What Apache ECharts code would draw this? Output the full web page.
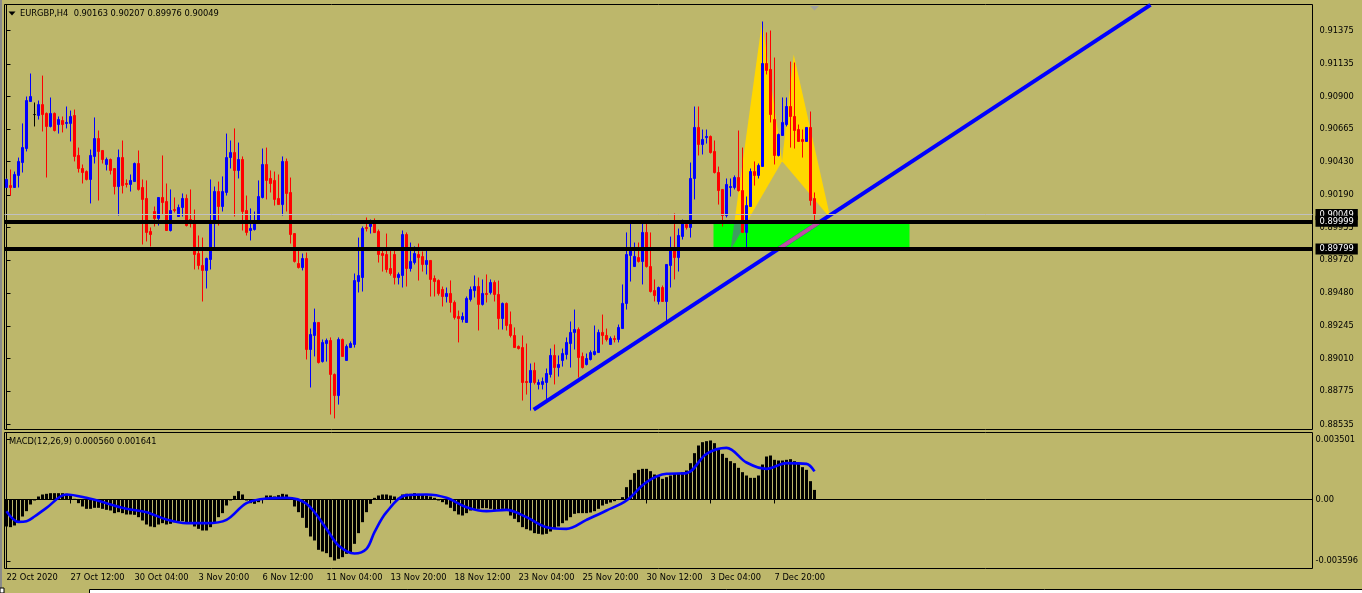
<!DOCTYPE html>
<html><head><meta charset="utf-8">
<script src="https://cdn.jsdelivr.net/npm/echarts@6/dist/echarts.min.js"></script>
<style>html,body{margin:0;padding:0;background:#BDB76B;overflow:hidden}#c{width:1362px;height:593px}</style>
</head><body><div id="c"></div>
<script>
const symbolName = 'EURGBP,H4';
const xTickLabels = ['22 Oct 2020','27 Oct 12:00','30 Oct 04:00','3 Nov 20:00','6 Nov 12:00','11 Nov 04:00','13 Nov 20:00','18 Nov 12:00','23 Nov 04:00','25 Nov 20:00','30 Nov 12:00','3 Dec 04:00','7 Dec 20:00'];
const priceTicks = [0.91375,0.91135,0.90900,0.90665,0.90430,0.90190,0.89955,0.89720,0.89480,0.89245,0.89010,0.88775,0.88535];
const macdTicks = [0.003501, 0, -0.003596];

const opens = [
0.90243,0.90257,0.90243,0.90330,0.90423,0.90524,0.90863,0.90769,0.90762,0.90841,
0.90777,0.90683,0.90777,0.90697,0.90726,0.90705,0.90705,0.90762,0.90474,0.90380,
0.90358,0.90301,0.90467,0.90596,0.90510,0.90409,0.90445,0.90380,0.90250,0.90459,
0.90272,0.90265,0.90286,0.90416,0.90243,0.90164,0.89926,0.90070,0.90020,0.90171,
0.90142,0.89933,0.90084,0.90034,0.90099,0.90164,0.90012,0.89991,0.89767,0.89681,
0.89645,0.89724,0.89983,0.90214,0.90106,0.90207,0.90459,0.90495,0.90366,0.90445,
0.90077,0.89933,0.89940,0.89998,0.90171,0.90409,0.90308,0.90294,0.90164,0.90120,
0.90431,0.90207,0.89911,0.89695,0.89666,0.89731,0.89075,0.89176,0.89270,0.88988,
0.89118,0.89140,0.88895,0.88743,0.89147,0.88996,0.89089,0.89111,0.89565,0.89594,
0.89955,0.89962,0.89998,0.89926,0.89767,0.89760,0.89659,0.89760,0.89594,0.89609,
0.89904,0.89659,0.89702,0.89760,0.89745,0.89688,0.89717,0.89587,0.89573,0.89508,
0.89457,0.89479,0.89414,0.89313,0.89291,0.89270,0.89436,0.89500,0.89529,0.89400,
0.89479,0.89486,0.89558,0.89472,0.89298,0.89407,0.89255,0.89176,0.89097,0.89089,
0.88844,0.88837,0.88924,0.88823,0.88823,0.88837,0.88895,0.89032,0.88945,0.88996,
0.89039,0.89118,0.89198,0.89219,0.89025,0.88967,0.89003,0.89039,0.89053,0.89198,
0.89176,0.89111,0.89154,0.89147,0.89226,0.89407,0.89753,0.89673,0.89738,0.89710,
0.89919,0.89673,0.89500,0.89421,0.89522,0.89421,0.89681,0.89803,0.89738,0.89890,
0.89976,0.89955,0.90308,0.90676,0.90553,0.90603,0.90611,0.90503,0.90351,0.90229,
0.90041,0.90243,0.90243,0.90315,0.90221,0.89919,0.90106,0.90358,0.90330,0.90395,
0.91137,0.91094,0.90733,0.90474,0.90618,0.90697,0.90827,0.90755,0.90661,0.90589,
0.90575,0.90676,0.90163];

const highs = [
0.90308,0.90373,0.90358,0.90459,0.90705,0.90899,0.91065,0.90856,0.90870,0.91050,
0.90784,0.90892,0.90784,0.90755,0.90755,0.90827,0.90798,0.90805,0.90531,0.90409,
0.90366,0.90517,0.90748,0.90654,0.90510,0.90459,0.90452,0.90380,0.90517,0.90582,
0.90301,0.90337,0.90423,0.90510,0.90301,0.90294,0.89955,0.90106,0.90171,0.90474,
0.90272,0.90229,0.90171,0.90120,0.90200,0.90193,0.90229,0.90084,0.89897,0.89882,
0.89738,0.90301,0.90250,0.90286,0.90323,0.90632,0.90582,0.90669,0.90567,0.90467,
0.90185,0.90092,0.90070,0.90294,0.90524,0.90531,0.90366,0.90358,0.90337,0.90467,
0.90452,0.90315,0.89911,0.89796,0.89767,0.89774,0.89226,0.89370,0.89270,0.89147,
0.89154,0.89162,0.88902,0.89162,0.89154,0.89111,0.89133,0.89623,0.89882,0.89962,
0.90027,0.90012,0.90020,0.89940,0.89810,0.89911,0.89810,0.89810,0.89630,0.89933,
0.89919,0.89846,0.89818,0.89839,0.89782,0.89803,0.89717,0.89609,0.89580,0.89529,
0.89522,0.89573,0.89428,0.89356,0.89342,0.89457,0.89529,0.89609,0.89594,0.89580,
0.89616,0.89580,0.89573,0.89572,0.89414,0.89414,0.89349,0.89234,0.89104,0.89176,
0.89118,0.88974,0.88981,0.88859,0.88873,0.88938,0.89082,0.89111,0.89032,0.89082,
0.89162,0.89277,0.89363,0.89234,0.89053,0.89046,0.89068,0.89248,0.89219,0.89327,
0.89226,0.89169,0.89176,0.89255,0.89544,0.89919,0.89983,0.89846,0.89846,0.89991,
0.89983,0.89919,0.89580,0.89529,0.89536,0.89688,0.89889,0.90056,0.89947,0.90012,
0.89998,0.90423,0.90827,0.90827,0.90661,0.90661,0.90618,0.90582,0.90394,0.90229,
0.90308,0.90308,0.90330,0.90654,0.90531,0.90178,0.90380,0.90431,0.90416,0.91440,
0.91361,0.91375,0.91180,0.90632,0.90892,0.90892,0.91151,0.91144,0.90697,0.90661,
0.90676,0.90791,0.90207];

const lows = [
0.90243,0.90185,0.90243,0.90243,0.90351,0.90503,0.90863,0.90683,0.90733,0.90647,
0.90315,0.90676,0.90647,0.90632,0.90640,0.90669,0.90575,0.90431,0.90351,0.90272,
0.90294,0.90128,0.90416,0.90149,0.90416,0.90366,0.90337,0.90193,0.90041,0.90200,
0.90243,0.90214,0.90286,0.90221,0.89832,0.89854,0.89818,0.89962,0.89969,0.90048,
0.89933,0.89926,0.90063,0.90034,0.90034,0.89962,0.89955,0.89652,0.89652,0.89421,
0.89515,0.89652,0.89810,0.89969,0.90070,0.90185,0.90380,0.90034,0.90308,0.89933,
0.89897,0.89861,0.89933,0.89991,0.90164,0.90157,0.90207,0.90113,0.90120,0.90041,
0.90070,0.89839,0.89702,0.89659,0.89645,0.89003,0.88801,0.89025,0.88974,0.88981,
0.88988,0.88606,0.88578,0.88678,0.89025,0.88996,0.89089,0.89089,0.89486,0.89493,
0.89926,0.89911,0.89918,0.89702,0.89637,0.89630,0.89608,0.89544,0.89544,0.89522,
0.89529,0.89637,0.89688,0.89572,0.89637,0.89616,0.89457,0.89457,0.89464,0.89385,
0.89414,0.89342,0.89291,0.89126,0.89270,0.89270,0.89421,0.89450,0.89212,0.89392,
0.89414,0.89472,0.89421,0.89219,0.89219,0.89212,0.89162,0.89089,0.89075,0.88707,
0.88750,0.88635,0.88823,0.88787,0.88787,0.88715,0.88873,0.88823,0.88880,0.88952,
0.89003,0.88945,0.89075,0.88873,0.88938,0.88960,0.88996,0.89032,0.89053,0.89111,
0.89133,0.89111,0.89126,0.89126,0.89226,0.89363,0.89565,0.89673,0.89702,0.89544,
0.89666,0.89486,0.89421,0.89400,0.89421,0.89277,0.89522,0.89580,0.89637,0.89868,
0.89940,0.89882,0.90157,0.90474,0.90481,0.90560,0.90488,0.90344,0.90120,0.89962,
0.90027,0.90178,0.90229,0.90214,0.89919,0.89810,0.90106,0.90257,0.90308,0.90395,
0.91058,0.90712,0.90409,0.90467,0.90618,0.90683,0.90531,0.90524,0.90575,0.90459,
0.90575,0.90113,0.89976];

const closes = [
0.90301,0.90243,0.90337,0.90431,0.90531,0.90870,0.90899,0.90769,0.90841,0.90769,
0.90683,0.90777,0.90654,0.90733,0.90697,0.90712,0.90755,0.90467,0.90380,0.90351,
0.90301,0.90474,0.90596,0.90503,0.90445,0.90445,0.90366,0.90250,0.90459,0.90257,
0.90265,0.90294,0.90416,0.90229,0.90157,0.89919,0.89904,0.90020,0.90171,0.90135,
0.89933,0.90077,0.90077,0.90099,0.90164,0.89969,0.89983,0.89760,0.89681,0.89645,
0.89731,0.89998,0.90214,0.90106,0.90214,0.90459,0.90495,0.90366,0.90445,0.90070,
0.89919,0.89948,0.89998,0.90178,0.90409,0.90294,0.90272,0.90157,0.90120,0.90431,
0.90200,0.89904,0.89710,0.89666,0.89731,0.89075,0.89183,0.89270,0.88981,0.89126,
0.89140,0.88895,0.88743,0.89147,0.89025,0.89097,0.89118,0.89572,0.89608,0.89947,
0.89947,0.89991,0.89918,0.89760,0.89753,0.89652,0.89623,0.89594,0.89616,0.89904,
0.89659,0.89710,0.89767,0.89738,0.89688,0.89717,0.89580,0.89565,0.89479,0.89457,
0.89479,0.89414,0.89306,0.89298,0.89313,0.89443,0.89508,0.89529,0.89400,0.89479,
0.89472,0.89558,0.89472,0.89298,0.89407,0.89248,0.89176,0.89089,0.89082,0.88837,
0.88837,0.88924,0.88837,0.88837,0.88844,0.88902,0.89032,0.88945,0.88967,0.89046,
0.89126,0.89198,0.89219,0.89017,0.88945,0.89010,0.89053,0.89061,0.89198,0.89176,
0.89147,0.89154,0.89147,0.89234,0.89407,0.89760,0.89810,0.89746,0.89710,0.89919,
0.89673,0.89493,0.89464,0.89522,0.89421,0.89688,0.89803,0.89738,0.89897,0.89983,
0.89955,0.90308,0.90676,0.90553,0.90589,0.90611,0.90495,0.90351,0.90221,0.90041,
0.90265,0.90250,0.90315,0.90221,0.89919,0.90113,0.90358,0.90330,0.90402,0.91137,
0.91087,0.90769,0.90474,0.90625,0.90712,0.90827,0.90755,0.90654,0.90575,0.90575,
0.90676,0.90149,0.90049];

const macdHist = [
-0.001575,-0.001614,-0.001517,-0.001264,-0.000992,-0.000681,-0.000292,-0.000058,0.000175,0.000292,
0.000331,0.000370,0.000370,0.000370,0.000370,0.000331,0.000253,0.000039,-0.000214,-0.000408,
-0.000545,-0.000545,-0.000486,-0.000486,-0.000545,-0.000603,-0.000642,-0.000797,-0.000739,-0.000797,
-0.000875,-0.000875,-0.000895,-0.001031,-0.001225,-0.001459,-0.001575,-0.001614,-0.001459,-0.001381,
-0.001459,-0.001420,-0.001323,-0.001264,-0.001264,-0.001323,-0.001381,-0.001575,-0.001712,-0.001809,
-0.001809,-0.001614,-0.001323,-0.001031,-0.000797,-0.000350,-0.000058,0.000214,0.000486,0.000292,
-0.000058,-0.000214,-0.000253,-0.000156,0.000039,0.000233,0.000233,0.000175,0.000253,0.000331,
0.000292,-0.000019,-0.000408,-0.000739,-0.001070,-0.001653,-0.002159,-0.002392,-0.002937,-0.003034,
-0.003131,-0.003365,-0.003559,-0.003462,-0.003365,-0.003170,-0.003073,-0.002587,-0.001964,-0.001323,
-0.000739,-0.000253,0.000097,0.000233,0.000292,0.000292,0.000233,0.000175,0.000097,0.000292,
0.000331,0.000331,0.000370,0.000331,0.000292,0.000233,0.000175,0.000097,-0.000058,-0.000156,
-0.000292,-0.000486,-0.000681,-0.000875,-0.000934,-0.000797,-0.000642,-0.000603,-0.000545,-0.000506,
-0.000506,-0.000545,-0.000603,-0.000564,-0.000545,-0.000642,-0.000934,-0.001128,-0.001323,-0.001614,
-0.001731,-0.001809,-0.001964,-0.002003,-0.002042,-0.002003,-0.001867,-0.001712,-0.001575,-0.001381,
-0.001225,-0.001031,-0.000836,-0.000797,-0.000797,-0.000797,-0.000759,-0.000681,-0.000545,-0.000350,
-0.000253,-0.000175,-0.000097,-0.000019,0.000136,0.000720,0.001148,0.001537,0.001731,0.001789,
0.001789,0.001653,0.001459,0.001342,0.001206,0.001303,0.001400,0.001498,0.001537,0.001595,
0.001692,0.002120,0.002704,0.003151,0.003345,0.003404,0.003443,0.003287,0.002956,0.002665,
0.002431,0.002237,0.002120,0.001848,0.001595,0.001400,0.001264,0.001264,0.001400,0.002042,
0.002509,0.002567,0.002315,0.002276,0.002276,0.002315,0.002353,0.002237,0.002081,0.001887,
0.001731,0.001070,0.000560];

const signalIdx = [0,3,5,7,10,15,20,25,30,35,40,45,50,55,60,65,70,75,80,83,87,90,92,95,100,105,110,115,120,125,130,135,140,145,150,155,160,165,170,175,180,185,190,195,200,202];
const signalVals = [-0.000681,-0.001303,-0.001264,-0.000992,-0.000486,0.000292,0.000097,-0.000214,-0.000545,-0.000739,-0.001167,-0.001381,-0.001381,-0.001186,-0.000214,0.000058,0.000097,-0.000253,-0.001712,-0.002684,-0.003150,-0.002879,-0.001906,-0.000739,0.000253,0.000292,0.000097,-0.000447,-0.000681,-0.000603,-0.001031,-0.001614,-0.001712,-0.001186,-0.000642,-0.000058,0.001011,0.001498,0.001537,0.002665,0.003015,0.002159,0.001789,0.002120,0.002081,0.001641];

// drawn objects (bar index, price)
const levelPrices = [0.89999, 0.89799];
const bidPrice = 0.90049;
const trendIdx = [131.8, 286];
const trendPrice = [0.88642, 0.91560];
const patternIdx = [181, 188.9, 193.9, 196.8, 206];       // X A B C D
const patternPrice = [0.89790, 0.91442, 0.90433, 0.91202, 0.90020];
const zoneIdx = [176.75, 225.75];
const zonePrice = [0.89799, 0.89999];

const SLOTS = 327;
const categories = Array.from({length: SLOTS}, (_, i) => String(i));
const candleData = opens.map((o, i) => [o, closes[i], lows[i], highs[i]]);
const FONT = 'DejaVu Sans';
const FS = 8.3;
const last = opens.length - 1;

function trendAt(p) { return trendIdx[0] + (p - trendPrice[0]) / (trendPrice[1] - trendPrice[0]) * (trendIdx[1] - trendIdx[0]); }
const magentaSeg = zonePrice.map(p => [trendAt(p), p]);

const tickShow = (i) => i % 16 === 0 && i / 16 < xTickLabels.length;

function renderOverlay(params, api) {
  const pt = (i, p) => api.coord([i, p]);
  const P = (k) => pt(patternIdx[k], patternPrice[k]);
  const cut = (a, b) => {
    const t = (zonePrice[1] - patternPrice[a]) / (patternPrice[b] - patternPrice[a]);
    return pt(patternIdx[a] + t * (patternIdx[b] - patternIdx[a]), zonePrice[1]);
  };
  const zA = pt(zoneIdx[0], zonePrice[1]);
  const zB = pt(zoneIdx[1], zonePrice[0]);
  return {
    type: 'group',
    children: [
      {type: 'polygon', shape: {points: [P(0), P(1), P(2)]}, style: {fill: '#FFD700'}},
      {type: 'polygon', shape: {points: [P(2), P(3), P(4)]}, style: {fill: '#FFD700'}},
      {type: 'rect', shape: {x: zA[0], y: zA[1], width: zB[0] - zA[0], height: zB[1] - zA[1]}, style: {fill: '#00FF00'}},
      {type: 'polygon', shape: {points: [P(0), cut(0, 1), cut(0, 2)]}, style: {fill: '#3F9D60'}}
    ]
  };
}

const tagLabel = {
  show: true, position: 'end', distance: 3, color: '#fff', backgroundColor: '#000',
  padding: [2, 4, 1, 4], fontSize: FS, fontFamily: FONT,
  formatter: (p) => Number(p.value).toFixed(5)
};

const chart = echarts.init(document.getElementById('c'), null, {renderer: 'canvas'});
chart.setOption({
  animation: false,
  backgroundColor: '#BDB76B',
  textStyle: {fontFamily: FONT},
  grid: [
    {left: 4.5, top: 4.5, width: 1308, height: 425, show: true, borderColor: '#000', borderWidth: 1},
    {left: 4.5, top: 432.5, width: 1308, height: 136, show: true, borderColor: '#000', borderWidth: 1}
  ],
  xAxis: [
    {type: 'category', gridIndex: 0, data: categories, boundaryGap: true, show: false},
    {type: 'category', gridIndex: 1, data: categories, boundaryGap: true,
     axisLine: {show: true, lineStyle: {color: '#000', width: 1}},
     axisTick: {show: true, alignWithLabel: true, interval: tickShow, length: 4, lineStyle: {color: '#000'}},
     axisLabel: {show: true, interval: tickShow, align: 'left', margin: 5, color: '#000', fontSize: FS, fontFamily: FONT,
       formatter: (v, i) => xTickLabels[Number(v) / 16] || ''},
     splitLine: {show: false}},
    {type: 'value', gridIndex: 0, min: -0.5, max: SLOTS - 0.5, show: false},
    {type: 'value', gridIndex: 1, min: -0.5, max: SLOTS - 0.5, show: false}
  ],
  yAxis: [
    {type: 'value', gridIndex: 0, position: 'right', min: 0.884982, max: 0.915625, scale: true,
     splitLine: {show: false},
     axisLine: {show: true, lineStyle: {color: '#000'}},
     axisTick: {show: true, length: 4, customValues: priceTicks, lineStyle: {color: '#000'}},
     axisLabel: {show: true, customValues: priceTicks, margin: 7, color: '#000', fontSize: FS, fontFamily: FONT,
       formatter: (v) => Number(v).toFixed(5)}},
    {type: 'value', gridIndex: 1, position: 'right', min: -0.0040262, max: 0.0039094,
     splitLine: {show: false},
     axisLine: {show: true, lineStyle: {color: '#000'}},
     axisTick: {show: true, length: 4, customValues: macdTicks, lineStyle: {color: '#000'}},
     axisLabel: {show: true, customValues: macdTicks, margin: 3, color: '#000', fontSize: FS, fontFamily: FONT,
       formatter: (v) => Number(v) === 0 ? '0.00' : Number(v).toFixed(6)}}
  ],
  series: [
    {type: 'custom', name: 'objects', xAxisIndex: 2, yAxisIndex: 0, data: [[0, 0.9]], renderItem: renderOverlay, z: 1, silent: true},
    {type: 'candlestick', name: symbolName, xAxisIndex: 0, yAxisIndex: 0, data: candleData, barWidth: 3, z: 2,
     itemStyle: {color: '#0000FF', color0: '#FF0000', borderColor: '#0000FF', borderColor0: '#FF0000', borderColorDoji: '#000000', borderWidth: 1},
     markLine: {silent: true, symbol: ['none', 'none'], animation: false, precision: 5,
       data: [
         {yAxis: bidPrice, lineStyle: {color: '#C0C0C0', width: 1, type: 'solid'}, label: tagLabel},
         {yAxis: levelPrices[0], lineStyle: {color: '#000', width: 4, type: 'solid'}, label: tagLabel},
         {yAxis: levelPrices[1], lineStyle: {color: '#000', width: 4, type: 'solid'}, label: tagLabel}
       ]}},
    {type: 'line', name: 'trend', xAxisIndex: 2, yAxisIndex: 0, data: trendIdx.map((x, i) => [x, trendPrice[i]]),
     symbol: 'none', lineStyle: {color: '#0000FF', width: 4}, z: 3, silent: true, clip: true},
    {type: 'line', name: 'trendInZone', xAxisIndex: 2, yAxisIndex: 0, data: magentaSeg,
     symbol: 'none', lineStyle: {color: '#C050A0', width: 4}, z: 3, silent: true},
    {type: 'bar', name: 'MACD', xAxisIndex: 1, yAxisIndex: 1, data: macdHist, barWidth: 3, itemStyle: {color: '#000'}, silent: true},
    {type: 'line', name: 'Signal', xAxisIndex: 3, yAxisIndex: 1, data: signalIdx.map((x, i) => [x, signalVals[i]]),
     smooth: 0.35, symbol: 'none', lineStyle: {color: '#0000FF', width: 2.6}, z: 3, silent: true}
  ],
  graphic: [
    {type: 'rect', shape: {x: 0, y: 0, width: 2, height: 588}, style: {fill: '#8a8a8a'}, z: 100},
    {type: 'polygon', shape: {points: [[8.5, 11.5], [15.5, 11.5], [12, 15.5]]}, style: {fill: '#000'}, z: 100},
    {type: 'text', x: 20, y: 14, style: {text: `${symbolName}  ${opens[last].toFixed(5)} ${highs[last].toFixed(5)} ${lows[last].toFixed(5)} ${closes[last].toFixed(5)}`,
      fill: '#000', font: `${FS}px "${FONT}"`, verticalAlign: 'middle', textVerticalAlign: 'middle'}, z: 100},
    {type: 'text', x: 9, y: 442, style: {text: `MACD(12,26,9) ${macdHist[last].toFixed(6)} ${signalVals[signalVals.length - 1].toFixed(6)}`,
      fill: '#000', font: `${FS}px "${FONT}"`, verticalAlign: 'middle', textVerticalAlign: 'middle'}, z: 100},
    {type: 'polygon', shape: {points: [[810, 6], [819, 6], [814.5, 10.5]]}, style: {fill: '#A0A0A0'}, z: 100},
    {type: 'rect', shape: {x: 0, y: 588, width: 4, height: 5}, style: {fill: '#fff', stroke: '#000', lineWidth: 1}, z: 100},
    {type: 'rect', shape: {x: 89.5, y: 589.5, width: 1280, height: 6}, style: {fill: '#fff', stroke: '#000', lineWidth: 1}, z: 100}
  ]
});
</script>
</body></html>
